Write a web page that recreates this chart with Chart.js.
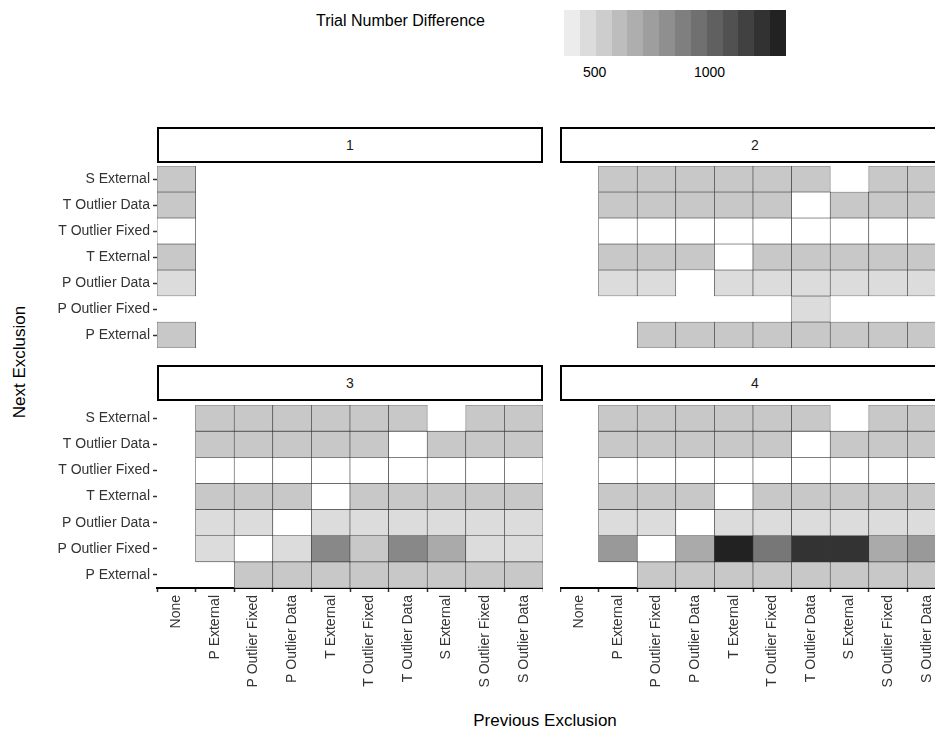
<!DOCTYPE html>
<html>
<head>
<meta charset="utf-8">
<script src="https://cdn.jsdelivr.net/npm/chart.js@4"></script>
<style>
body { margin:0; width:935px; height:736px; overflow:hidden; background:#fff; font-family:"Liberation Sans", Arial, sans-serif; position:relative; }
canvas { position:absolute; }
.box { position:absolute; border:2px solid #000; box-sizing:border-box; text-align:center; font-size:14px; color:#1a1a1a; }
.lbl { position:absolute; font-size:14px; color:#000; }
</style>
</head>
<body>
<div class="lbl" style="left:316px;top:12px;font-size:16px">Trial Number Difference</div>
<div id="legend" style="position:absolute;left:564px;top:10px;height:46px;width:222px;display:flex"></div>
<div class="lbl" style="left:583px;top:64px;font-size:14px">500</div>
<div class="lbl" style="left:694px;top:64px;font-size:14px">1000</div>

<div class="box" style="left:157px;top:127px;width:386px;height:36px;line-height:32px">1</div>
<div class="box" style="left:560px;top:127px;width:390px;height:36px;line-height:32px">2</div>
<div class="box" style="left:157px;top:365px;width:386px;height:36px;line-height:32px">3</div>
<div class="box" style="left:560px;top:365px;width:390px;height:36px;line-height:32px">4</div>

<div class="lbl" style="left:-45px;top:352px;font-size:17px;transform:rotate(-90deg);width:130px;text-align:center">Next Exclusion</div>
<div class="lbl" style="left:435px;top:711px;font-size:17px;width:220px;text-align:center">Previous Exclusion</div>

<canvas id="c1" style="left:0;top:166px" width="543" height="182"></canvas>
<canvas id="c2" style="left:560px;top:166px" width="386" height="182"></canvas>
<canvas id="c3" style="left:0;top:405px" width="543" height="331"></canvas>
<canvas id="c4" style="left:560px;top:405px" width="386" height="331"></canvas>

<script>
var prevExcl = ["None", "P External", "P Outlier Fixed", "P Outlier Data", "T External",
    "T Outlier Fixed", "T Outlier Data", "S External", "S Outlier Fixed", "S Outlier Data"];
var nextExcl = ["S External", "T Outlier Data", "T Outlier Fixed", "T External",
    "P Outlier Data", "P Outlier Fixed", "P External"];
var legendTicks = [500, 1000];
var n = null;

// rows follow nextExcl, columns follow prevExcl
var facet1 = [
    [532, n, n, n, n, n, n, n, n, n],
    [532, n, n, n, n, n, n, n, n, n],
    [250, n, n, n, n, n, n, n, n, n],
    [532, n, n, n, n, n, n, n, n, n],
    [436, n, n, n, n, n, n, n, n, n],
    [n, n, n, n, n, n, n, n, n, n],
    [532, n, n, n, n, n, n, n, n, n]
];
var facet2 = [
    [n, 532, 532, 532, 532, 532, 532, n, 532, 532],
    [n, 532, 532, 532, 532, 532, 250, 532, 532, 532],
    [n, 250, 250, 250, 250, 250, 250, 250, 250, 250],
    [n, 532, 532, 532, 250, 532, 532, 532, 532, 532],
    [n, 436, 436, n, 436, 436, 436, 436, 436, 436],
    [n, n, n, n, n, n, 436, n, n, n],
    [n, n, 532, 532, 532, 532, 532, 532, 532, 532]
];
var facet3 = [
    [n, 532, 532, 532, 532, 532, 532, n, 532, 532],
    [n, 532, 532, 532, 532, 532, 250, 532, 532, 532],
    [n, 250, 250, 250, 250, 250, 250, 250, 250, 250],
    [n, 532, 532, 532, 250, 532, 532, 532, 532, 532],
    [n, 436, 436, 250, 436, 436, 436, 436, 436, 436],
    [n, 436, 250, 436, 838, 532, 838, 675, 436, 436],
    [n, n, 532, 532, 532, 532, 532, 532, 532, 532]
];
var facet4 = [
    [n, 532, 532, 532, 532, 532, 532, n, 532, 532],
    [n, 532, 532, 532, 532, 532, 250, 532, 532, 532],
    [n, 250, 250, 250, 250, 250, 250, 250, 250, 250],
    [n, 532, 532, 532, 250, 532, 532, 532, 532, 532],
    [n, 436, 436, 250, 436, 436, 436, 436, 436, 436],
    [n, 757, 250, 675, 1325, 919, 1244, 1244, 675, 757],
    [n, n, 532, 532, 532, 532, 532, 532, 532, 532]
];

function grey(v) {
    var g = 236 - (v - 360) / 965 * 202;
    if (g > 236) g = 255;
    if (g < 30) g = 30;
    g = Math.round(g);
    return "rgb(" + g + "," + g + "," + g + ")";
}

// legend colour bar
var leg = document.getElementById("legend");
for (var k = 0; k < 14; k++) {
    var d = document.createElement("div");
    d.style.flex = "1";
    d.style.background = grey(360 + k * 965 / 13);
    leg.appendChild(d);
}

function makeChart(id, vals, showY, showX) {
    var datasets = [];
    for (var r = 0; r < nextExcl.length; r++) {
        var data = [], colors = [];
        for (var c = 0; c < prevExcl.length; c++) {
            data.push(vals[r][c] === null ? null : [r - 0.5, r + 0.5]);
            colors.push(vals[r][c] === null ? "rgba(0,0,0,0)" : grey(vals[r][c]));
        }
        datasets.push({
            data: data,
            backgroundColor: colors,
            borderColor: "#333",
            borderWidth: 0.6,
            grouped: false,
            barPercentage: 1,
            categoryPercentage: 1,
            borderSkipped: false
        });
    }
    return new Chart(document.getElementById(id), {
        type: "bar",
        data: { labels: prevExcl, datasets: datasets },
        options: {
            responsive: false,
            animation: false,
            layout: { padding: 0 },
            plugins: { legend: { display: false }, tooltip: { enabled: false } },
            scales: {
                x: {
                    display: showX,
                    grid: { display: true, drawOnChartArea: false, tickLength: 4, color: "#333", tickWidth: 1.5 },
                    border: { display: true, color: "#000", width: 2 },
                    ticks: { minRotation: 90, maxRotation: 90, autoSkip: false, color: "#333",
                        font: { family: "Liberation Sans", size: 14 } },
                    afterFit: function (s) {
                        if (showX) s.height = 148;
                        s.paddingLeft = 0; s.paddingRight = 0;
                    }
                },
                y: {
                    display: showY,
                    reverse: true,
                    min: -0.5, max: 6.5,
                    grid: { display: true, drawOnChartArea: false, tickLength: 4, color: "#333", tickWidth: 1.5 },
                    border: { display: false },
                    afterBuildTicks: function (s) {
                        s.ticks = nextExcl.map(function (name, i) { return { value: i }; });
                    },
                    ticks: {
                        color: "#333", font: { family: "Liberation Sans", size: 14 },
                        callback: function (v) { return nextExcl[v]; }
                    },
                    afterFit: function (s) {
                        if (showY) s.width = 157;
                        s.paddingTop = 0; s.paddingBottom = 0;
                    }
                }
            }
        }
    });
}

makeChart("c1", facet1, true, false);
makeChart("c2", facet2, false, false);
makeChart("c3", facet3, true, true);
makeChart("c4", facet4, false, true);
</script>
</body>
</html>
